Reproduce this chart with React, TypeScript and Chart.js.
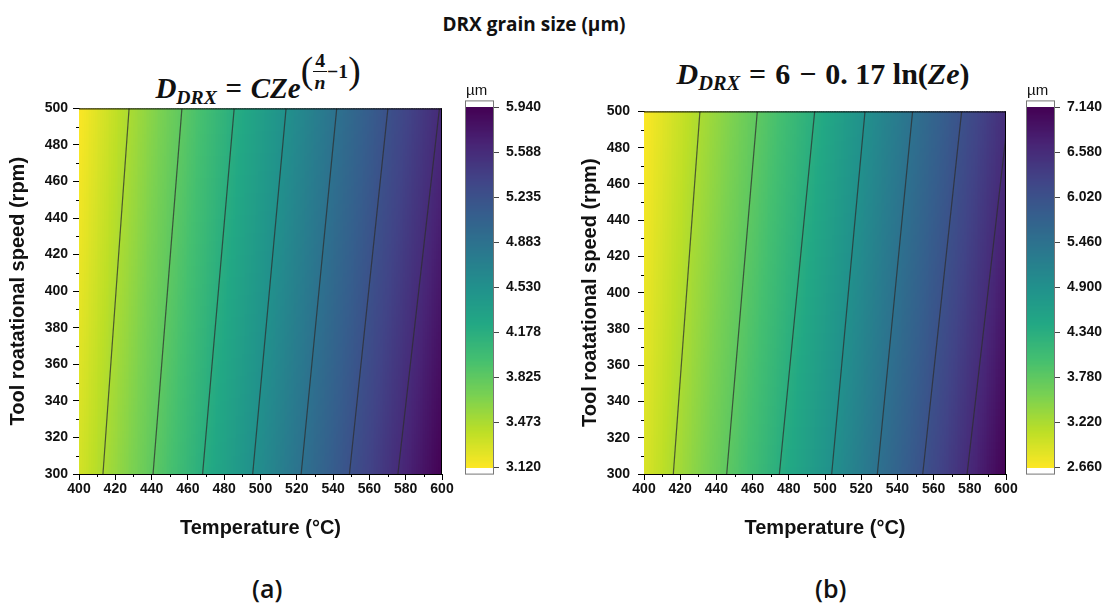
import React, { useEffect, useRef } from "react";
import { Chart, registerables } from "chart.js";

Chart.register(...registerables);

// ---------------- data ----------------
const temperatureMin = 400;
const temperatureMax = 600;
const temperatureStep = 20;
const rpmMin = 300;
const rpmMax = 500;
const rpmStep = 20;

// Panel (a): D_DRX = C Ze^(4/n - 1)
const levelsA = [3.473, 3.825, 4.178, 4.53, 4.883, 5.235, 5.588];
const contourTempAt300A = [413.2, 440.8, 468.1, 495.7, 522.4, 549.0, 575.7];
const contourTempAt500A = [427.6, 456.7, 485.5, 514.1, 542.0, 570.2, 598.6];
const edgeAt400A = [3.3, 3.12]; // value at 400 °C for 300 / 500 rpm
const edgeAt600A = [5.94, 5.61]; // value at 600 °C for 300 / 500 rpm
const colorbarTicksA = [3.12, 3.473, 3.825, 4.178, 4.53, 4.883, 5.235, 5.588, 5.94];

// Panel (b): D_DRX = 6 - 0.17 ln(Ze)
const levelsB = [3.22, 3.78, 4.34, 4.9, 5.46, 6.02, 6.58];
const contourTempAt300B = [416.2, 445.7, 474.8, 503.7, 528.9, 554.0, 578.5];
const contourTempAt500B = [430.9, 462.6, 494.3, 522.1, 548.4, 575.5, 601.5];
const edgeAt400B = [2.91, 2.66];
const edgeAt600B = [7.14, 6.55];
const colorbarTicksB = [2.66, 3.22, 3.78, 4.34, 4.9, 5.46, 6.02, 6.58, 7.14];

const xTitle = "Temperature (°C)";
const yTitle = "Tool roatational speed (rpm)";
const unitLabel = "µm";
const mainTitle = "DRX grain size (µm)";

// ---------------- styling ----------------
const VIRIDIS = [
  "#440154", "#482475", "#414487", "#355f8d", "#2a788e", "#21918c",
  "#22a884", "#44bf70", "#7ad151", "#bddf26", "#fde725",
].map((h) => [parseInt(h.slice(1, 3), 16), parseInt(h.slice(3, 5), 16), parseInt(h.slice(5, 7), 16)]);

const SANS = '"Liberation Sans", Arial, sans-serif';

function viridis(t: number) {
  const c = Math.max(0, Math.min(1, t)) * (VIRIDIS.length - 1);
  const i = Math.min(VIRIDIS.length - 2, Math.floor(c));
  const f = c - i;
  const a = VIRIDIS[i], b = VIRIDIS[i + 1];
  return `rgb(${Math.round(a[0] + (b[0] - a[0]) * f)},${Math.round(a[1] + (b[1] - a[1]) * f)},${Math.round(a[2] + (b[2] - a[2]) * f)})`;
}

type Panel = {
  levels: number[];
  c300: number[];
  c500: number[];
  e400: number[];
  e600: number[];
  cbTicks: number[];
};

const panelA: Panel = { levels: levelsA, c300: contourTempAt300A, c500: contourTempAt500A, e400: edgeAt400A, e600: edgeAt600A, cbTicks: colorbarTicksA };
const panelB: Panel = { levels: levelsB, c300: contourTempAt300B, c500: contourTempAt500B, e400: edgeAt400B, e600: edgeAt600B, cbTicks: colorbarTicksB };

const lerp = (a: number, b: number, f: number) => a + (b - a) * f;

function fieldValue(p: Panel, T: number, rpm: number) {
  const f = (rpm - rpmMin) / (rpmMax - rpmMin);
  const ks: [number, number][] = [[temperatureMin, lerp(p.e400[0], p.e400[1], f)]];
  p.levels.forEach((lv, i) => {
    const t = lerp(p.c300[i], p.c500[i], f);
    if (t > temperatureMin && t < temperatureMax) ks.push([t, lv]);
  });
  ks.push([temperatureMax, lerp(p.e600[0], p.e600[1], f)]);
  for (let i = 0; i < ks.length - 1; i++) {
    if (T <= ks[i + 1][0]) {
      const [t0, v0] = ks[i];
      const [t1, v1] = ks[i + 1];
      return v0 + ((v1 - v0) * (T - t0)) / (t1 - t0);
    }
  }
  return ks[ks.length - 1][1];
}

function colorFor(p: Panel, v: number) {
  const lo = p.cbTicks[0];
  const hi = p.cbTicks[p.cbTicks.length - 1];
  return viridis(1 - (v - lo) / (hi - lo));
}

type Layout = {
  mainLeft: number;
  mainWidth: number;
  yTitleGap: number;
  yTickPad: number;
  cbLeft: number;
  cbWidth: number;
};

function MainChart({ p, L }: { p: Panel; L: Layout }) {
  const ref = useRef<HTMLCanvasElement>(null);
  useEffect(() => {
    const heat = {
      id: "heat",
      beforeDatasetsDraw(chart: any) {
        const { ctx, chartArea: a, scales } = chart;
        const x = scales.x, y = scales.y;
        ctx.save();
        ctx.beginPath();
        ctx.rect(a.left, a.top, a.right - a.left, a.bottom - a.top);
        ctx.clip();
        for (let T = temperatureMin; T < temperatureMax; T += 1) {
          const px0 = Math.floor(x.getPixelForValue(T));
          const px1 = Math.ceil(x.getPixelForValue(T + 1));
          for (let r = rpmMin; r < rpmMax; r += 2) {
            const py0 = Math.floor(y.getPixelForValue(r + 2));
            const py1 = Math.ceil(y.getPixelForValue(r));
            ctx.fillStyle = colorFor(p, fieldValue(p, T + 0.5, r + 1));
            ctx.fillRect(px0, py0, px1 - px0, py1 - py0);
          }
        }
        ctx.restore();
      },
      afterDraw(chart: any) {
        const { ctx, chartArea: a, scales } = chart;
        const x = scales.x, y = scales.y;
        ctx.save();
        ctx.strokeStyle = "#000";
        ctx.lineWidth = 1;
        ctx.beginPath();
        ctx.moveTo(a.left, a.top + 0.5);
        ctx.lineTo(a.right, a.top + 0.5);
        ctx.moveTo(a.right - 0.5, a.top);
        ctx.lineTo(a.right - 0.5, a.bottom);
        for (let T = temperatureMin + temperatureStep / 2; T < temperatureMax; T += temperatureStep) {
          const px = Math.round(x.getPixelForValue(T)) + 0.5;
          ctx.moveTo(px, a.bottom);
          ctx.lineTo(px, a.bottom + 3);
        }
        for (let r = rpmMin + rpmStep / 2; r < rpmMax; r += rpmStep) {
          const py = Math.round(y.getPixelForValue(r)) + 0.5;
          ctx.moveTo(a.left - 3, py);
          ctx.lineTo(a.left, py);
        }
        ctx.stroke();
        ctx.restore();
      },
    };
    const tickFont = { family: SANS, size: 14, weight: "bold" as const };
    const titleFont = { family: SANS, size: 20, weight: "bold" as const };
    const chart = new Chart(ref.current!, {
      type: "scatter",
      data: {
        datasets: p.levels.map((lv, i) => ({
          label: String(lv),
          data: [
            { x: p.c300[i], y: rpmMin },
            { x: p.c500[i], y: rpmMax },
          ],
          showLine: true,
          pointRadius: 0,
          borderColor: "rgba(45,45,45,0.75)",
          borderWidth: 1.2,
          clip: 0,
        })),
      },
      options: {
        responsive: false,
        animation: false,
        devicePixelRatio: 1,
        events: [],
        layout: { padding: { top: 8, right: 28, left: 0, bottom: 0 } },
        plugins: { legend: { display: false }, tooltip: { enabled: false } },
        scales: {
          x: {
            type: "linear",
            min: temperatureMin,
            max: temperatureMax,
            ticks: { stepSize: temperatureStep, color: "#111", font: tickFont, padding: 1, maxRotation: 0, autoSkip: false },
            grid: { drawOnChartArea: false, drawTicks: true, tickLength: 6, color: "#000", tickColor: "#000" },
            border: { color: "#000", width: 1 },
            title: { display: true, text: xTitle, color: "#111", font: titleFont, padding: { top: 0, bottom: 25 } },
            afterFit: (s: any) => { s.height = 91; },
          },
          y: {
            type: "linear",
            min: rpmMin,
            max: rpmMax,
            ticks: { stepSize: rpmStep, color: "#111", font: tickFont, padding: L.yTickPad, autoSkip: false },
            grid: { drawOnChartArea: false, drawTicks: true, tickLength: 6, color: "#000", tickColor: "#000" },
            border: { color: "#000", width: 1 },
            title: { display: true, text: yTitle, color: "#111", font: titleFont, padding: { top: L.yTitleGap, bottom: 0 } },
            afterFit: (s: any) => { s.width = 79; },
          },
        },
      },
      plugins: [heat],
    } as any);
    return () => chart.destroy();
  }, []);
  return (
    <canvas
      ref={ref}
      width={L.mainWidth}
      height={470}
      style={{ position: "absolute", left: L.mainLeft, top: 95, width: L.mainWidth, height: 470 }}
    />
  );
}

function ColorBar({ p, L }: { p: Panel; L: Layout }) {
  const ref = useRef<HTMLCanvasElement>(null);
  useEffect(() => {
    const lo = p.cbTicks[0];
    const hi = p.cbTicks[p.cbTicks.length - 1];
    const pad = (hi - lo) * 0.02;
    const bar = {
      id: "bar",
      beforeDatasetsDraw(chart: any) {
        const { ctx, chartArea: a, scales } = chart;
        const y = scales.y;
        ctx.save();
        ctx.fillStyle = "#fff";
        ctx.fillRect(a.left, a.top, a.right - a.left, a.bottom - a.top);
        const n = 300;
        for (let k = 0; k < n; k++) {
          const v0 = lo + ((hi - lo) * k) / n;
          const v1 = lo + ((hi - lo) * (k + 1)) / n;
          const y0 = Math.floor(y.getPixelForValue(v1));
          const y1 = Math.ceil(y.getPixelForValue(v0));
          ctx.fillStyle = colorFor(p, (v0 + v1) / 2);
          ctx.fillRect(a.left, y0, a.right - a.left, y1 - y0);
        }
        ctx.strokeStyle = "#777";
        ctx.lineWidth = 1;
        ctx.strokeRect(a.left + 0.5, a.top + 0.5, a.right - a.left - 1, a.bottom - a.top - 1);
        ctx.restore();
      },
    };
    const chart = new Chart(ref.current!, {
      type: "scatter",
      data: { datasets: [{ data: [] }] },
      options: {
        responsive: false,
        animation: false,
        devicePixelRatio: 1,
        events: [],
        layout: { padding: { top: 12, bottom: 13, left: 10, right: 0 } },
        plugins: { legend: { display: false }, tooltip: { enabled: false } },
        scales: {
          x: { display: false, min: 0, max: 1 },
          y: {
            position: "right",
            min: lo - pad,
            max: hi + pad,
            afterBuildTicks: (s: any) => {
              s.ticks = p.cbTicks.map((v) => ({ value: v }));
            },
            ticks: {
              autoSkip: false,
              color: "#111",
              padding: 7,
              font: { family: SANS, size: 14, weight: "bold" },
              callback: (v: any) => Number(v).toFixed(3),
            },
            grid: { drawOnChartArea: false, drawTicks: true, tickLength: 5, color: "#444", tickColor: "#444" },
            border: { display: false },
            afterFit: (s: any) => { s.width = L.cbWidth - 39; },
          },
        },
      },
      plugins: [bar],
    } as any);
    return () => chart.destroy();
  }, []);
  return (
    <canvas
      ref={ref}
      width={L.cbWidth}
      height={405}
      style={{ position: "absolute", left: L.cbLeft, top: 85, width: L.cbWidth, height: 405 }}
    />
  );
}

const mathFont = '"Liberation Serif", "DejaVu Serif", serif';

function FormulaA() {
  return (
    <div
      style={{
        position: "absolute",
        left: 0,
        width: 516,
        top: 50,
        textAlign: "center",
        fontFamily: mathFont,
        fontWeight: 700,
        fontStyle: "italic",
        fontSize: 29,
        lineHeight: "40px",
        whiteSpace: "nowrap",
        color: "#111",
      }}
    >
      D<span style={{ fontSize: "0.68em", verticalAlign: "-0.3em" }}>DRX</span>
      <span style={{ fontStyle: "normal", margin: "0 0.3em" }}>=</span>
      CZe
      <span style={{ display: "inline-flex", alignItems: "center", fontSize: "0.68em", verticalAlign: "0.75em" }}>
        <span style={{ fontStyle: "normal", fontWeight: 400, fontSize: "1.9em", lineHeight: 1 }}>(</span>
        <span style={{ display: "inline-flex", flexDirection: "column", alignItems: "center", lineHeight: 1.05 }}>
          <span style={{ fontStyle: "normal", borderBottom: "1.5px solid #111", padding: "0 2px" }}>4</span>
          <span>n</span>
        </span>
        <span style={{ fontStyle: "normal" }}>−1</span>
        <span style={{ fontStyle: "normal", fontWeight: 400, fontSize: "1.9em", lineHeight: 1 }}>)</span>
      </span>
    </div>
  );
}

function FormulaB() {
  return (
    <div
      style={{
        position: "absolute",
        left: 565,
        width: 516,
        top: 54,
        textAlign: "center",
        fontFamily: mathFont,
        fontWeight: 700,
        fontSize: 30,
        lineHeight: "40px",
        whiteSpace: "nowrap",
        color: "#111",
      }}
    >
      <i>D</i>
      <i style={{ fontSize: "0.68em", verticalAlign: "-0.3em" }}>DRX</i>
      <span style={{ margin: "0 0.3em" }}>=</span>6<span style={{ margin: "0 0.3em" }}>−</span>0. 17 ln(<i>Ze</i>)
    </div>
  );
}

const layoutA: Layout = { mainLeft: 0, mainWidth: 470, yTitleGap: 6, yTickPad: 5, cbLeft: 455, cbWidth: 105 };
const layoutB: Layout = { mainLeft: 565, mainWidth: 469, yTitleGap: 13, yTickPad: 8, cbLeft: 1016, cbWidth: 94 };

export default function App() {
  return (
    <div style={{ position: "fixed", left: 0, top: 0, width: 1110, height: 606, background: "#fff", overflow: "hidden" }}>
      <div
        style={{
          position: "absolute",
          left: 0,
          width: 1068,
          top: 11,
          textAlign: "center",
          fontFamily: '"Open Sans", sans-serif',
          fontWeight: 700,
          fontSize: 19,
          color: "#111",
        }}
      >
        {mainTitle}
      </div>
      <FormulaA />
      <FormulaB />
      <MainChart p={panelA} L={layoutA} />
      <MainChart p={panelB} L={layoutB} />
      <ColorBar p={panelA} L={layoutA} />
      <ColorBar p={panelB} L={layoutB} />
      <div style={{ position: "absolute", left: 466, top: 81, fontFamily: SANS, fontSize: 15, color: "#111" }}>{unitLabel}</div>
      <div style={{ position: "absolute", left: 1027, top: 81, fontFamily: SANS, fontSize: 15, color: "#111" }}>{unitLabel}</div>
      <div style={{ position: "absolute", left: 252, top: 571, fontFamily: '"Open Sans", sans-serif', fontWeight: 600, fontSize: 25, color: "#111" }}>(a)</div>
      <div style={{ position: "absolute", left: 815, top: 571, fontFamily: '"Open Sans", sans-serif', fontWeight: 600, fontSize: 25, color: "#111" }}>(b)</div>
    </div>
  );
}
